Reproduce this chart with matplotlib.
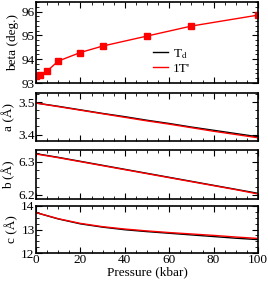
import matplotlib
matplotlib.use('Agg')
import matplotlib.pyplot as plt
from matplotlib.lines import Line2D
from matplotlib.ticker import MultipleLocator

plt.rcParams['font.family'] = ['Liberation Serif', 'DejaVu Serif']
plt.rcParams['mathtext.fontset'] = 'stix'

# beta (1T' only, with markers)
p_beta = [0, 2, 5, 10, 20, 30, 50, 70, 100]
beta_1t = [93.30, 93.33, 93.50, 93.92, 94.28, 94.55, 94.97, 95.39, 95.85]

# lattice constants vs pressure
p_grid = [0, 10, 20, 30, 40, 50, 60, 70, 80, 90, 100]
a_td = [3.497, 3.487, 3.476, 3.465, 3.455, 3.444, 3.434, 3.423, 3.413, 3.403, 3.393]
a_1t = [3.497, 3.486, 3.475, 3.464, 3.453, 3.442, 3.432, 3.421, 3.410, 3.400, 3.390]
b_td = [6.324, 6.313, 6.301, 6.289, 6.277, 6.265, 6.253, 6.241, 6.229, 6.217, 6.205]
b_1t = [6.323, 6.312, 6.300, 6.288, 6.276, 6.264, 6.252, 6.240, 6.228, 6.216, 6.203]
c_td = [13.72, 13.45, 13.24, 13.10, 12.99, 12.91, 12.84, 12.77, 12.70, 12.63, 12.57]
c_1t = [13.72, 13.46, 13.26, 13.12, 13.02, 12.94, 12.87, 12.81, 12.75, 12.68, 12.62]

W, H = 268, 282
fig = plt.figure(figsize=(W / 100, H / 100), dpi=100)

def box(top, bottom):
    return [36 / W, 1 - bottom / H, 222 / W, (bottom - top) / H]

ax1 = fig.add_axes(box(2, 83))
ax2 = fig.add_axes(box(93, 141))
ax3 = fig.add_axes(box(150, 199))
ax4 = fig.add_axes(box(206, 253))

fs = 9.5

ax1.plot(p_beta, beta_1t, color='red', lw=1, marker='s', ms=4.5)
ax1.set_ylim(93, 96.4)
ax1.yaxis.set_major_locator(MultipleLocator(1))
ax1.yaxis.set_minor_locator(MultipleLocator(0.2))
ax1.set_ylabel('beta (deg.)', fontsize=fs, labelpad=2)
handles = [Line2D([], [], color='black', lw=1), Line2D([], [], color='red', lw=1)]
ax1.legend(handles, [r'T$_\mathrm{d}$', "1T'"], loc='lower left', bbox_to_anchor=(0.48, -0.03),
           frameon=False, fontsize=fs, handlelength=1.1, handletextpad=0.4,
           labelspacing=0.15, borderpad=0.3)

ax2.plot(p_grid, a_td, color='black', lw=1)
ax2.plot(p_grid, a_1t, color='red', lw=1)
ax2.set_ylim(3.38, 3.528)
ax2.yaxis.set_major_locator(MultipleLocator(0.1))
ax2.yaxis.set_minor_locator(MultipleLocator(0.025))
ax2.set_ylabel('a (Å)', fontsize=fs, labelpad=2)

ax3.plot(p_grid, b_td, color='black', lw=1)
ax3.plot(p_grid, b_1t, color='red', lw=1)
ax3.set_ylim(6.188, 6.335)
ax3.yaxis.set_major_locator(MultipleLocator(0.1))
ax3.yaxis.set_minor_locator(MultipleLocator(0.025))
ax3.set_ylabel('b (Å)', fontsize=fs, labelpad=2)

ax4.plot(p_grid, c_td, color='black', lw=1)
ax4.plot(p_grid, c_1t, color='red', lw=1)
ax4.set_ylim(12, 14)
ax4.yaxis.set_major_locator(MultipleLocator(1))
ax4.yaxis.set_minor_locator(MultipleLocator(0.25))
ax4.set_ylabel('c (Å)', fontsize=fs, labelpad=2)
ax4.set_xlabel('Pressure (kbar)', fontsize=fs, labelpad=0)

for ax in (ax1, ax2, ax3, ax4):
    ax.set_xlim(0, 100)
    ax.xaxis.set_major_locator(MultipleLocator(20))
    ax.xaxis.set_minor_locator(MultipleLocator(5))
    ax.tick_params(which='both', direction='in', top=True, right=True, labelsize=fs, pad=1)
    ax.tick_params(which='major', length=4, width=0.8)
    ax.tick_params(which='minor', length=2, width=0.6)
    for s in ax.spines.values():
        s.set_linewidth(1.2)
    if ax is not ax4:
        ax.tick_params(labelbottom=False)

fig.align_ylabels([ax1, ax2, ax3, ax4])
fig.savefig('out.png', dpi=100)
